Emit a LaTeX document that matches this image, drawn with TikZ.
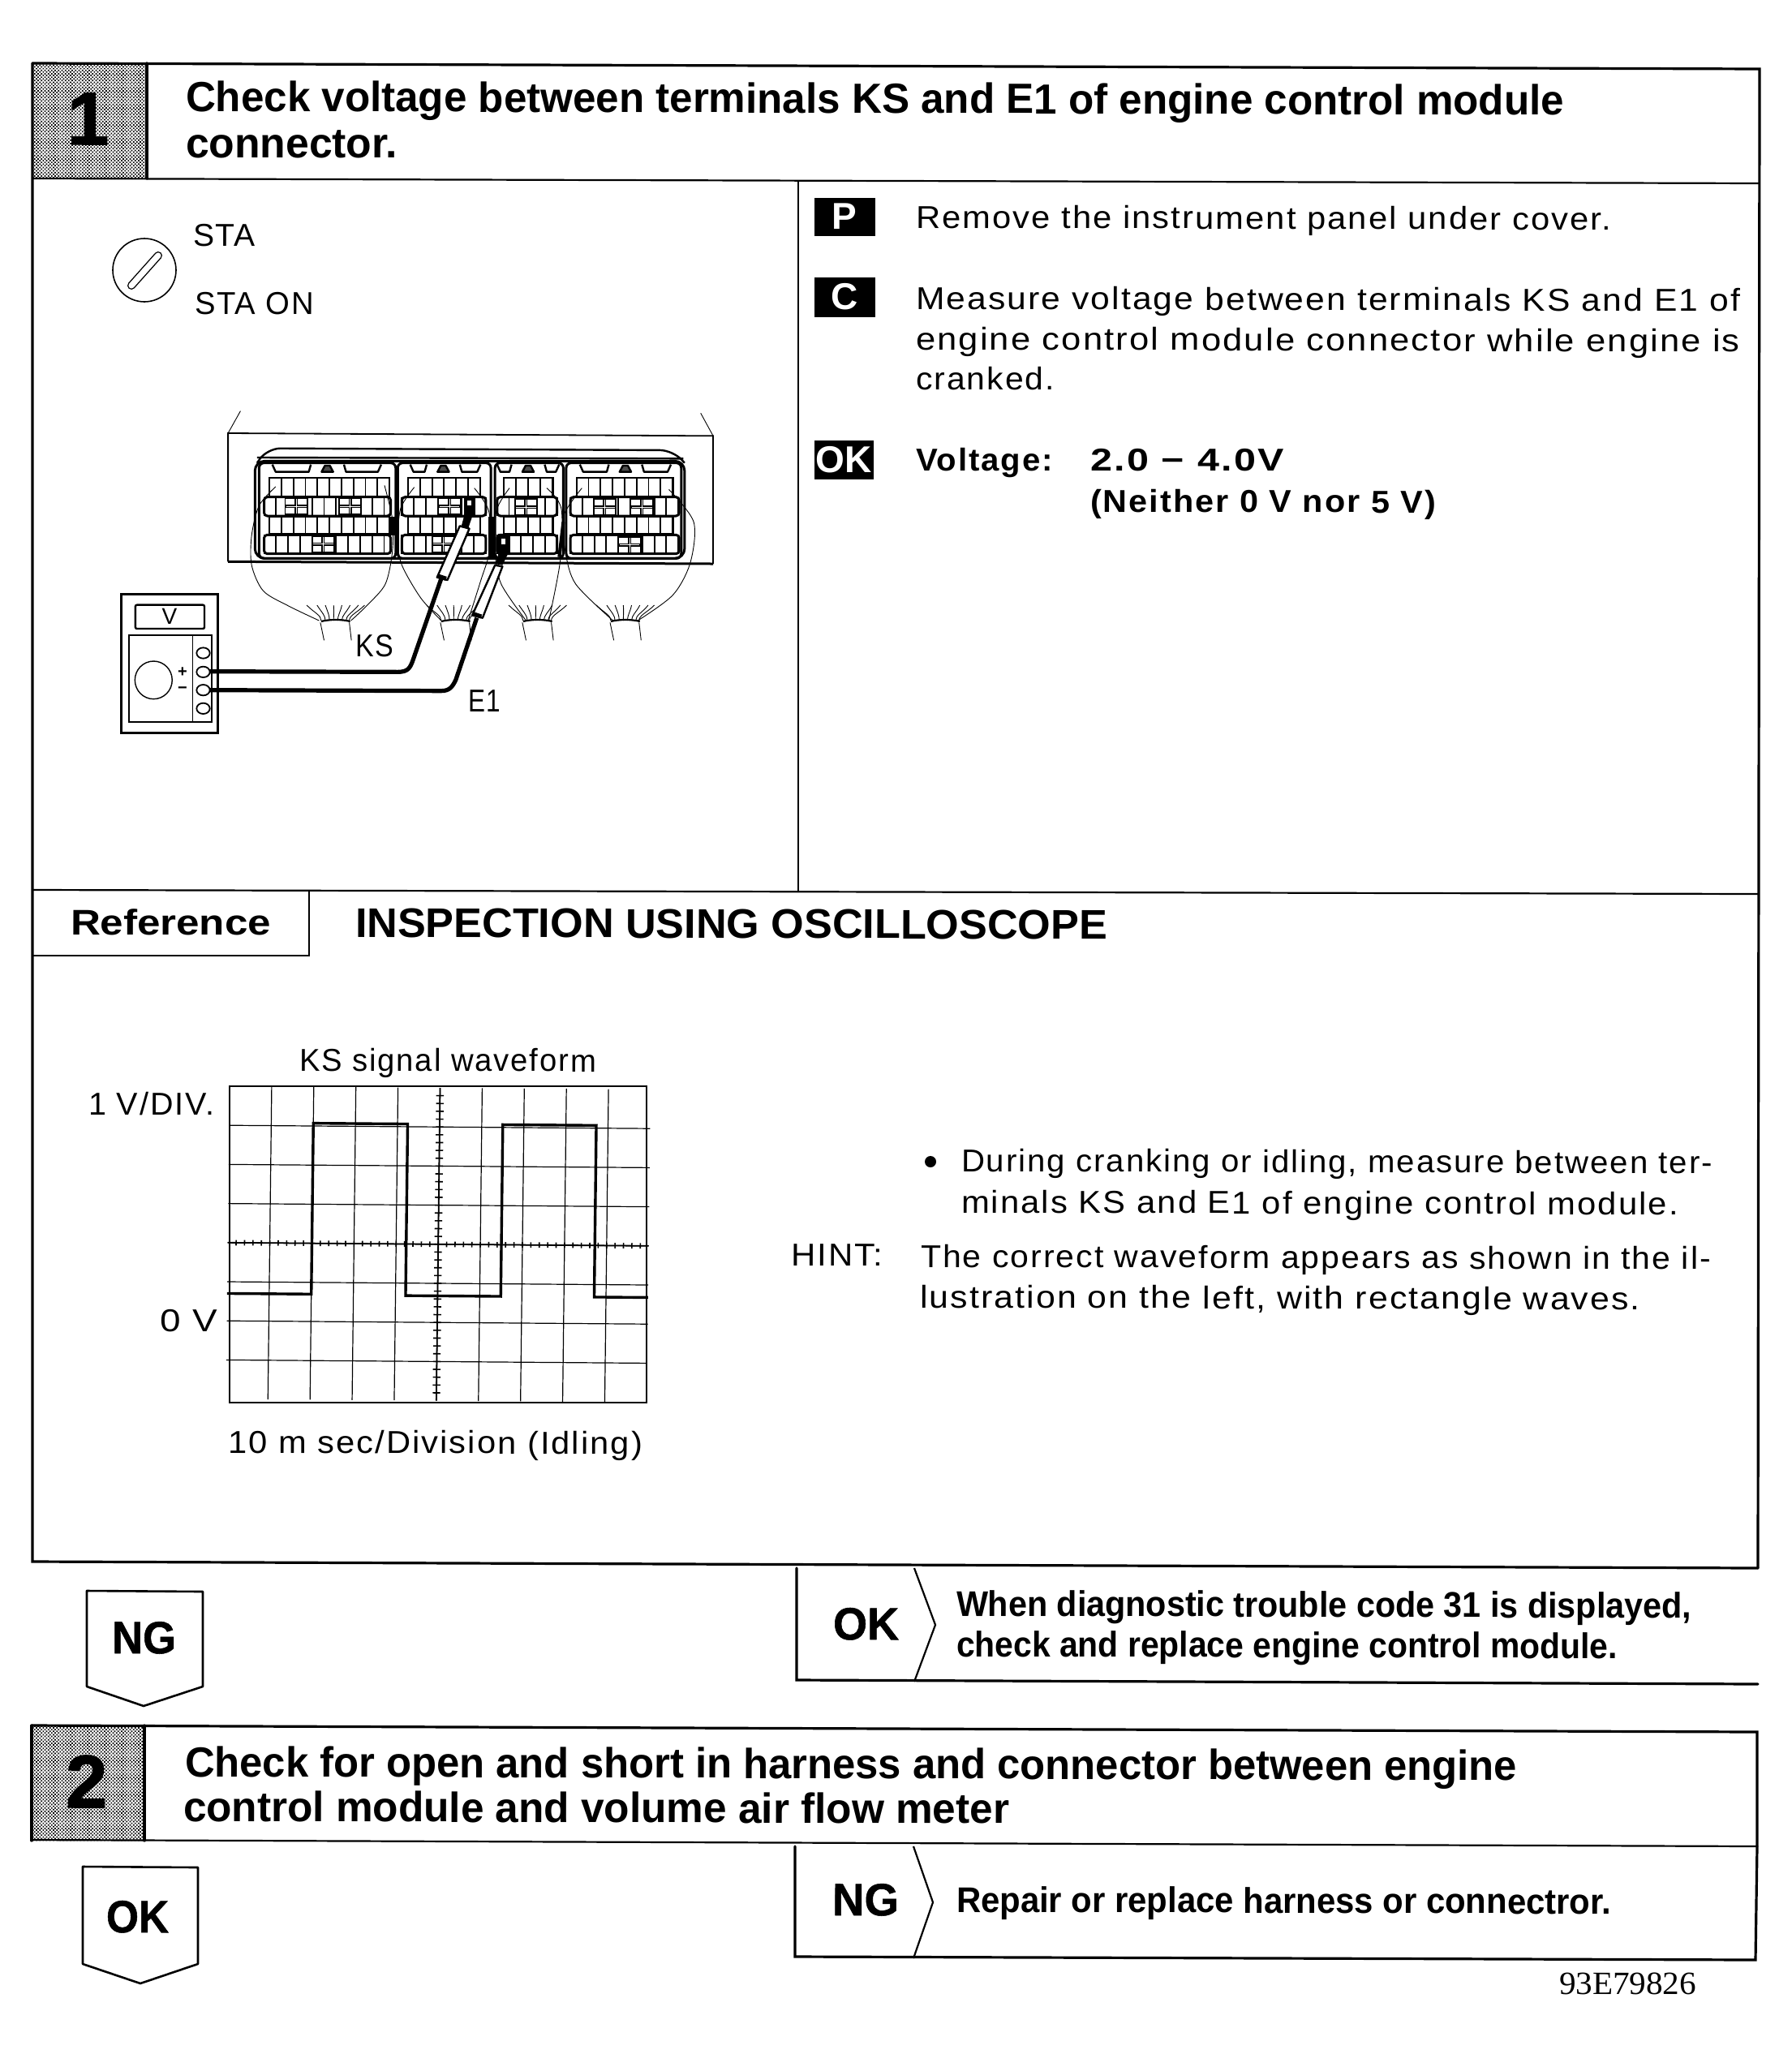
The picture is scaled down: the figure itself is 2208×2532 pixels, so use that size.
\documentclass[tikz,border=0pt]{standalone}
\usepackage{graphicx}
\usepackage{fontspec}
\setmainfont{Liberation Sans}
\newfontfamily\serifnum{Liberation Serif}
\usetikzlibrary{patterns}
\newdimen\pxu \pxu=0.5pt
\pgfdeclarepatternformonly{halft}{\pgfqpoint{-0.1pt}{-0.1pt}}{\pgfqpoint{2.1pt}{2.1pt}}{\pgfqpoint{2.1pt}{2.1pt}}{%
  \pgfpathrectangle{\pgfqpoint{0pt}{0pt}}{\pgfqpoint{0.85pt}{0.85pt}}%
  \pgfpathrectangle{\pgfqpoint{1.05pt}{1.05pt}}{\pgfqpoint{0.85pt}{0.85pt}}%
  \pgfusepath{fill}}
\tikzset{
  txt/.style={anchor=base west,inner sep=0pt,outer sep=0pt,rotate=-0.17},
  frameline/.style={line width=1.6pt,line cap=round},
  innerline/.style={line width=1.1pt},
  keybox/.style={fill=black,text=white,inner sep=0pt,font=\bfseries\fontsize{23}{24}\selectfont},
  thinw/.style={line width=0.45pt},
  cell/.style={line width=0.95pt},
  rowbox/.style={line width=1.5pt},
  lead/.style={line width=2.6pt,line join=round},
  trace/.style={line width=1.7pt,line join=miter},
  gridl/.style={line width=0.6pt},
  tabline/.style={line width=1.2pt,line join=round},
}
\newcommand\body{\fontsize{19.5}{21}\selectfont\addfontfeatures{LetterSpace=5}}
\newcommand\head{\bfseries\fontsize{26}{27}\selectfont}
\newcommand\subh{\bfseries\fontsize{22}{23}\selectfont}
\newcommand\biglab{\bfseries\fontsize{28}{29}\selectfont\addfontfeatures{FakeBold=1}}
\newcommand\stepnum{\bfseries\fontsize{46}{46}\selectfont\addfontfeatures{FakeBold=1.5}}
\newcommand\T[6]{\node[txt] (#1) at (#2,#3) {#5\resizebox{#4\pxu}{\height}{#6}};}
% connector block, crop coordinates
\newcommand\cblock[6]{% x0 x1 inner-left inner-right wide-left wide-right
  \draw[rowbox,rounded corners=3pt] (#1,272) rectangle (#2,625);
  \draw[cell] (#3,328) rectangle (#4,395);
  \draw[cell] (#3,470) rectangle (#4,535);
  \draw[rowbox,rounded corners=2pt] (#5,398) rectangle (#6,468);
  \draw[rowbox,rounded corners=2pt] (#5,538) rectangle (#6,608);
  \pgfmathsetmacro\stepa{#3+29}
  \foreach \xx in {#3,\stepa,...,#4}{
    \draw[cell] (\xx,328) -- (\xx,395);
    \draw[cell] (\xx,470) -- (\xx,535);
  }
  \pgfmathsetmacro\stepb{#5+29}
  \foreach \xx in {#5,\stepb,...,#6}{
    \draw[cell] (\xx,398) -- (\xx,468);
    \draw[cell] (\xx,538) -- (\xx,608);
  }
}
\newcommand\crs[2]{%
  \fill[white] (#1-28,#2-30) rectangle (#1+28,#2+30);
  \draw[line width=2pt] (#1-27,#2) -- (#1+27,#2) (#1,#2-30) -- (#1,#2+30);
  \draw[line width=0.35pt,white] (#1-24,#2) -- (#1+24,#2) (#1,#2-27) -- (#1,#2+27);
  \draw[cell] (#1-27,#2-30) rectangle (#1+27,#2+30);
}
\newcommand\tabs[3]{% left trapezoid start, bump centre, right trapezoid end
  \draw[tabline] (#1,278) -- (#1+8,305) -- (#2-45,305) -- (#2-40,278);
  \draw[tabline] (#2+40,278) -- (#2+45,305) -- (#3-8,305) -- (#3,278);
  \draw[tabline,fill=black!70] (#2-14,305) -- (#2-6,282) -- (#2+6,282) -- (#2+14,305) -- cycle;
}
\newcommand\harness[1]{%
  \draw[line width=1.1pt] (#1-35,858) .. controls (#1-15,850) and (#1+15,850) .. (#1+35,858);
  \draw[thinw] (#1-37,862) -- (#1-28,928) (#1+33,862) -- (#1+38,928);
  \foreach \dx/\ex in {-70/-35,-45/-25,-25/-15,-5/-5,15/5,35/15,55/25,70/33}{
    \draw[thinw] (#1+\dx,798) .. controls (#1+\dx*0.75,825) and (#1+\ex,835) .. (#1+\ex,855);
  }
}
\begin{document}
\begin{tikzpicture}[x=0.5pt,y=-0.5pt]
\useasboundingbox (0,0) rectangle (2208,2532);
\fill[white] (0,0) rectangle (2208,2532);

% ---------- frame step 1
\fill[pattern=halft,pattern color=black] (40,78) rectangle (181,220);
\draw[frameline] (40,78) -- (2169,85) -- (2167,1933);
\draw[frameline] (40,78) -- (40,1925) -- (2167,1933);
\draw[frameline] (181,78) -- (181,220);
\draw[innerline] (40,220) -- (2169,226);
\draw[innerline] (984,224) -- (984,1100);
\draw[innerline] (40,1097) -- (2168,1102);
\draw[innerline] (40,1178) -- (381,1178) -- (381,1097);

\node[txt] (n1) at (83,178) {\stepnum 1};
\T{h1a}{229}{137}{1699}{\head}{Check voltage between terminals KS and E1 of engine control module}
\T{h1b}{229}{194}{261}{\head}{connector.}

% key symbol
\coordinate (keyc) at (178,333);
\draw[line width=0.8pt] (keyc) circle (39);
\draw[line width=5pt,line cap=round] (162,352) -- (195,315);
\draw[line width=3.6pt,line cap=round,white] (162,352) -- (195,315);
\T{sta}{238}{303}{77}{\body}{STA}
\T{staon}{240}{387}{147}{\body}{STA ON}

% right column
\node[keybox,minimum width=37.5pt,minimum height=23.5pt] (p) at (1041,267) {P};
\T{t1}{1129}{281}{857}{\body}{Remove the instrument panel under cover.}
\node[keybox,minimum width=37.5pt,minimum height=24.5pt] (c) at (1041,366) {C};
\T{t2}{1129}{381}{1016}{\body}{Measure voltage between terminals KS and E1 of}
\T{t3}{1129}{431}{1016}{\body}{engine control module connector while engine is}
\T{t4}{1129}{480}{171}{\body}{cranked.}
\node[keybox,minimum width=36.5pt,minimum height=24pt] (ok) at (1040,567) {OK};
\T{t5}{1129}{580}{169}{\bfseries\body}{Voltage:}
\T{t6}{1344}{580}{239}{\bfseries\body}{2.0 − 4.0V}
\T{t7}{1344}{631}{426}{\bfseries\body}{(Neither 0 V nor 5 V)}

% ---------- ECU illustration (coordinates of the crop: x*1.96, y*3)
\begin{scope}[shift={(100,480)},x=0.2551pt,y=-0.16667pt]
  \draw[line width=0.9pt] (355,637) -- (355,162) -- (1527,172) -- (1527,645);
  \draw[line width=1.5pt] (355,637) -- (1527,645);
  \draw[thinw] (355,162) -- (385,80) (1527,172) -- (1497,88);
  \draw[line width=1.2pt,rounded corners=8pt] (425,272) -- (450,218) -- (1430,225) -- (1458,272);
  \draw[line width=1.2pt] (425,252) -- (1455,256);
  \draw[rowbox,rounded corners=6pt] (420,625) rectangle (1458,265);
  \cblock{430}{760}{455}{745}{442}{748}
  \cblock{765}{990}{790}{965}{775}{978}
  \cblock{1000}{1165}{1022}{1140}{1005}{1150}
  \cblock{1172}{1450}{1197}{1430}{1182}{1445}
  \crs{520}{432}\crs{650}{432}\crs{585}{572}
  \crs{890}{432}\crs{875}{572}
  \crs{1075}{435}
  \crs{1265}{435}\crs{1355}{435}\crs{1325}{575}
  \tabs{462}{595}{725}
  \tabs{795}{875}{965}
  \tabs{1005}{1080}{1155}
  \tabs{1205}{1315}{1425}
  \fill (745,470) rectangle (765,540);
  \fill (983,470) rectangle (1000,620);
  \draw[line width=2pt] (1165,490) -- (1155,620);
  % wires
  \draw[thinw] plot[smooth] coordinates {(470,360) (430,430) (412,540) (412,650) (440,745) (500,800) (575,855)};
  \draw[thinw] plot[smooth] coordinates {(733,355) (752,480) (752,600) (735,720) (690,800) (652,855)};
  \draw[thinw] plot[smooth] coordinates {(805,362) (772,440) (765,560) (775,650) (820,770) (870,855)};
  \draw[thinw] plot[smooth] coordinates {(950,365) (985,450) (988,590) (965,710) (935,855)};
  \draw[thinw] plot[smooth] coordinates {(1035,365) (1003,450) (1000,600) (1015,720) (1075,855)};
  \draw[thinw] plot[smooth] coordinates {(1125,365) (1160,440) (1158,630) (1130,855)};
  \draw[thinw] plot[smooth] coordinates {(1210,365) (1165,470) (1170,600) (1195,720) (1285,855)};
  \draw[thinw] plot[smooth] coordinates {(1420,370) (1480,490) (1472,640) (1430,760) (1345,855)};
  \harness{615}\harness{905}\harness{1103}\harness{1315}
  % meter
  \draw[line width=1.5pt] (97,757) rectangle (330,1270);
  \draw[line width=1.2pt,rounded corners=1pt] (131,797) rectangle (298,885);
  \draw[line width=1pt] (115,910) rectangle (315,1230);
  \draw[thinw] (270,910) -- (270,1230);
  \draw[line width=0.7pt] (175,1075) ellipse (45 and 70);
  \foreach \yy/\nm in {975/a,1045/b,1112/c,1180/d}{
    \draw[line width=0.9pt,fill=white] (295,\yy) ellipse (16 and 20);
  }
  \coordinate (ksin) at (311,1043);
  \coordinate (e1in) at (311,1112);
  % probes
  \fill[white] (915,505) -- (938,515) -- (885,705) -- (860,695) -- cycle;
  \draw[line width=1.2pt,line join=round] (915,505) -- (938,515) -- (885,705) -- (860,695) -- cycle;
  \draw[line width=2.6pt] (862,690) -- (882,700);
  \fill (925,398) rectangle (952,470);
  \fill (925,470) -- (945,470) -- (935,515) -- (918,510) -- cycle;
  \fill[white] (933,410) rectangle (943,430);
  \fill (1007,535) rectangle (1036,612);
  \fill[white] (1016,552) rectangle (1026,572);
  \fill (1008,612) -- (1030,612) -- (1018,650) -- (1000,645) -- cycle;
  \fill[white] (1000,650) -- (1018,655) -- (970,845) -- (945,835) -- cycle;
  \draw[line width=1.2pt,line join=round] (1000,650) -- (1018,655) -- (970,845) -- (945,835) -- cycle;
  \draw[line width=2.6pt] (947,830) -- (967,840);
  \coordinate (kstop) at (870,700);
  \coordinate (e1top) at (956,845);
  \draw[lead] (kstop) -- (802,1000) .. controls (795,1030) and (790,1045) .. (765,1045) -- (ksin);
  \draw[lead] (e1top) -- (905,1075) .. controls (897,1100) and (890,1115) .. (870,1115) -- (e1in);
\end{scope}
\T{ks}{438}{809}{47}{\body}{KS}
\T{e1}{577}{877}{40}{\body}{E1}
\node[inner sep=0pt,font=\fontsize{14}{15}\selectfont] (vl) at (209,760) {V};
\node[inner sep=0pt,font=\bfseries\fontsize{10}{10}\selectfont] (plusl) at (225,829) {+};
\node[inner sep=0pt,font=\bfseries\fontsize{10}{10}\selectfont] (minusl) at (225,851) {−};

% ---------- reference
\T{ref}{87}{1152}{247}{\subh}{Reference}
\T{insp}{438}{1155}{927}{\bfseries\fontsize{25.5}{26}\selectfont}{INSPECTION USING OSCILLOSCOPE}
\T{sig}{369}{1320}{366}{\body}{KS signal waveform}
\T{vdiv}{109}{1374}{155}{\body}{1 V/DIV.}
\T{zero}{197}{1641}{71}{\body}{0 V}
\T{tenm}{281}{1791}{511}{\body}{10 m sec/Division (Idling)}

\begin{scope}[shift={(283,1339)},x={(25.95pt,-0.2pt)},y={(-0.29pt,-24.1pt)}]
  \foreach \i in {1,...,9}{\draw[gridl] (\i,0) -- (\i,8);}
  \foreach \j in {1,...,7}{\draw[gridl] (0,\j) -- (10,\j);}
  \draw[line width=1pt] (0,0) rectangle (10,8);
  \draw[line width=0.9pt] (5,0) -- (5,8) (0,4) -- (10,4);
  \foreach \k in {1,...,39}{
    \draw[line width=0.8pt] (5-0.09,\k*0.2) -- (5+0.09,\k*0.2);
  }
  \foreach \k in {1,...,49}{
    \draw[line width=0.8pt] (\k*0.2,4-0.07) -- (\k*0.2,4+0.07);
  }
  \draw[trace] (0,5.3) -- (2.0,5.3) -- (2.0,0.93) -- (4.24,0.93) -- (4.24,5.32) -- (6.5,5.32) -- (6.5,0.93) -- (8.72,0.93) -- (8.72,5.32) -- (10,5.32);
\end{scope}

\fill (1147,1432) circle (7);
\T{b1}{1185}{1444}{926}{\body}{During cranking or idling, measure between ter-}
\T{b2}{1185}{1495}{884}{\body}{minals KS and E1 of engine control module.}
\T{hint}{975}{1560}{113}{\body}{HINT:}
\T{b3}{1135}{1562}{974}{\body}{The correct waveform appears as shown in the il-}
\T{b4}{1134}{1612}{888}{\body}{lustration on the left, with rectangle waves.}

% ---------- NG / OK row 1
\draw[line width=1.3pt,line join=round] (107,1961) -- (250,1962) -- (250,2079) -- (177,2103) -- (107,2079) -- cycle;
\T{ng1}{138}{2038}{79}{\biglab}{NG}
\draw[frameline] (982,1933) -- (982,2071) -- (2167,2076);
\draw[innerline] (1127,1933) -- (1153,2003) -- (1127,2073);
\T{ok1}{1027}{2021}{81}{\biglab}{OK}
\T{w1}{1179}{1992}{906}{\subh}{When diagnostic trouble code 31 is displayed,}
\T{w2}{1179}{2042}{815}{\subh}{check and replace engine control module.}

% ---------- step 2
\fill[pattern=halft,pattern color=black] (39,2127) rectangle (178,2269);
\draw[frameline] (39,2127) -- (2166,2135) -- (2166,2276);
\draw[frameline] (39,2127) -- (39,2269);
\draw[innerline] (39,2268) -- (2166,2276);
\draw[frameline] (178,2127) -- (178,2269);
\node[txt] (n2) at (81,2228) {\stepnum 2};
\T{h2a}{228}{2190}{1642}{\head}{Check for open and short in harness and connector between engine}
\T{h2b}{226}{2245}{1018}{\head}{control module and volume air flow meter}

\draw[line width=1.3pt,line join=round] (102,2301) -- (244,2302) -- (244,2421) -- (173,2445) -- (102,2421) -- cycle;
\T{ok2}{131}{2382}{77}{\biglab}{OK}
\draw[frameline] (980,2276) -- (980,2412) -- (2164,2416) -- (2166,2276);
\draw[innerline] (1126,2276) -- (1150,2345) -- (1126,2414);
\T{ng2}{1026}{2361}{82}{\biglab}{NG}
\T{r1}{1179}{2357}{807}{\subh}{Repair or replace harness or connectror.}
\T{code}{1922}{2458}{169}{\serifnum\fontsize{20}{22}\selectfont}{93E79826}
\end{tikzpicture}
\end{document}
